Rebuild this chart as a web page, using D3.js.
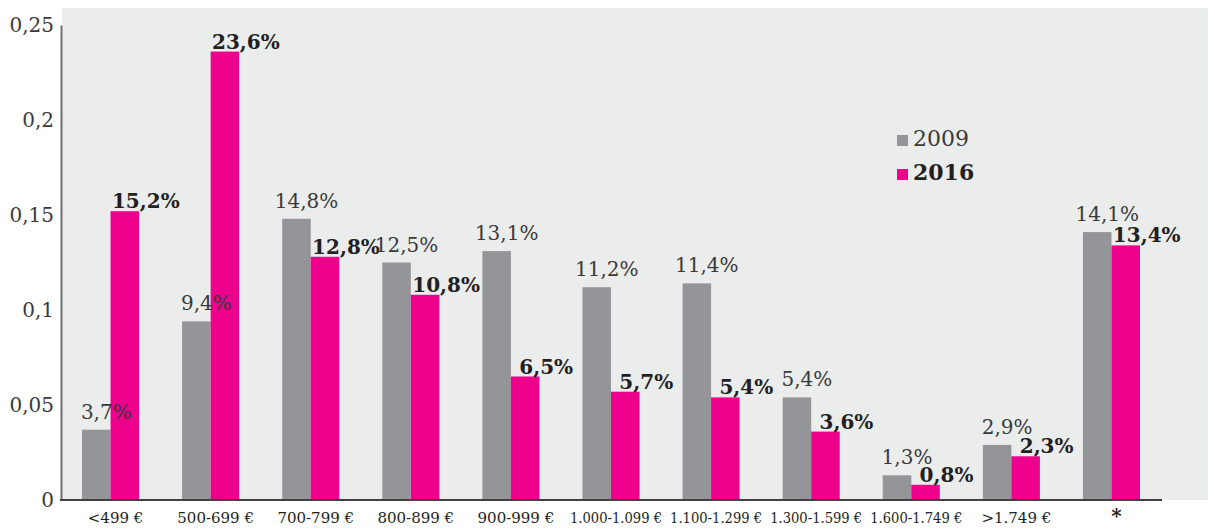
<!DOCTYPE html>
<html>
<head>
<meta charset="utf-8">
<script src="https://cdn.jsdelivr.net/npm/d3@7"></script>
<style>
  html, body { margin: 0; padding: 0; background: #ffffff; }
  svg { display: block; }
</style>
</head>
<body>
<div id="chart"></div>
<script>
// ---- data ----
const categories = ["<499 €", "500-699 €", "700-799 €", "800-899 €", "900-999 €",
  "1.000-1.099 €", "1.100-1.299 €", "1.300-1.599 €", "1.600-1.749 €", ">1.749 €", "*"];
const seriesNames = ["2009", "2016"];
const values2009 = [0.037, 0.094, 0.148, 0.125, 0.131, 0.112, 0.114, 0.054, 0.013, 0.029, 0.141];
const values2016 = [0.152, 0.236, 0.128, 0.108, 0.065, 0.057, 0.054, 0.036, 0.008, 0.023, 0.134];
const labels2009 = ["3,7%", "9,4%", "14,8%", "12,5%", "13,1%", "11,2%", "11,4%", "5,4%", "1,3%", "2,9%", "14,1%"];
const labels2016 = ["15,2%", "23,6%", "12,8%", "10,8%", "6,5%", "5,7%", "5,4%", "3,6%", "0,8%", "2,3%", "13,4%"];
const yTickValues = [0, 0.05, 0.1, 0.15, 0.2, 0.25];
const yTickLabels = ["0", "0,05", "0,1", "0,15", "0,2", "0,25"];

// ---- layout ----
const W = 1215, H = 529;
const colors = { "2009": "#939598", "2016": "#ec008c" };
const serif = "'DejaVu Serif', serif";

const svg = d3.select("#chart").append("svg").attr("width", W).attr("height", H);

const x = d3.scaleBand().domain(categories).range([61, 1161]).paddingInner(0.43).paddingOuter(0.21);
const x1 = d3.scaleBand().domain(seriesNames).range([0, x.bandwidth()]);
const y = d3.scaleLinear().domain([0, 0.25]).range([500, 25]);

// plot background
svg.append("rect").attr("x", 62).attr("y", 8).attr("width", 1208 - 62).attr("height", 500 - 8)
  .attr("fill", "#ebecec");

const rows = categories.map((c, i) => ({
  cat: c,
  items: [
    { s: "2009", v: values2009[i], lab: labels2009[i] },
    { s: "2016", v: values2016[i], lab: labels2016[i] }
  ]
}));

const groups = svg.append("g").selectAll("g").data(rows).join("g")
  .attr("transform", d => `translate(${x(d.cat)},0)`);

groups.selectAll("rect").data(d => d.items).join("rect")
  .attr("x", d => x1(d.s))
  .attr("y", d => y(d.v))
  .attr("width", x1.bandwidth())
  .attr("height", d => y(0) - y(d.v))
  .attr("fill", d => colors[d.s]);

// value labels
groups.selectAll("text").data(d => d.items).join("text")
  .attr("x", d => x1(d.s) + x1.bandwidth() / 2 + (d.s === "2009" ? 10 : 21))
  .attr("y", d => y(d.v) - (d.s === "2009" ? 11 : 3))
  .attr("text-anchor", "middle")
  .attr("font-family", serif)
  .attr("font-size", 20)
  .attr("font-weight", d => d.s === "2016" ? "bold" : "normal")
  .attr("fill", d => d.s === "2016" ? "#231f20" : "#3a3a3a")
  .text(d => d.lab);

// y axis
const yAxis = d3.axisLeft(y).tickValues(yTickValues)
  .tickFormat((d, i) => yTickLabels[i]).tickSize(0).tickPadding(7);
const gy = svg.append("g").attr("transform", "translate(61,0)").call(yAxis);
gy.select(".domain").attr("stroke", "#6d6e70").attr("stroke-width", 2);
gy.selectAll("text").attr("font-family", serif).attr("font-size", 20).attr("fill", "#3a3a3a")
  .attr("dy", "0.32em");

// x baseline
svg.append("line").attr("x1", 60).attr("x2", 1162).attr("y1", y(0)).attr("y2", y(0))
  .attr("stroke", "#414042").attr("stroke-width", 2);

// x labels
const xl = svg.append("g").selectAll("text").data(categories).join("text")
  .attr("x", d => x(d) + x.bandwidth() / 2 + 5)
  .attr("y", 523)
  .attr("text-anchor", "middle")
  .attr("font-family", serif)
  .attr("font-size", d => d === "*" ? 20 : 15)
  .attr("font-weight", d => d === "*" ? "bold" : "normal")
  .attr("fill", "#231f20")
  .text(d => d);
xl.each(function () {
  const len = this.getComputedTextLength();
  if (len > 92) d3.select(this).attr("textLength", 92).attr("lengthAdjust", "spacingAndGlyphs");
});

// legend
const legend = svg.append("g").selectAll("g").data(seriesNames).join("g")
  .attr("transform", (d, i) => `translate(897,${135 + i * 34})`);
legend.append("rect").attr("width", 11).attr("height", 11).attr("fill", d => colors[d]);
legend.append("text").attr("x", 16).attr("y", 11)
  .attr("font-family", serif).attr("font-size", 22)
  .attr("font-weight", d => d === "2016" ? "bold" : "normal")
  .attr("fill", d => d === "2016" ? "#231f20" : "#3a3a3a")
  .text(d => d);
</script>
</body>
</html>
